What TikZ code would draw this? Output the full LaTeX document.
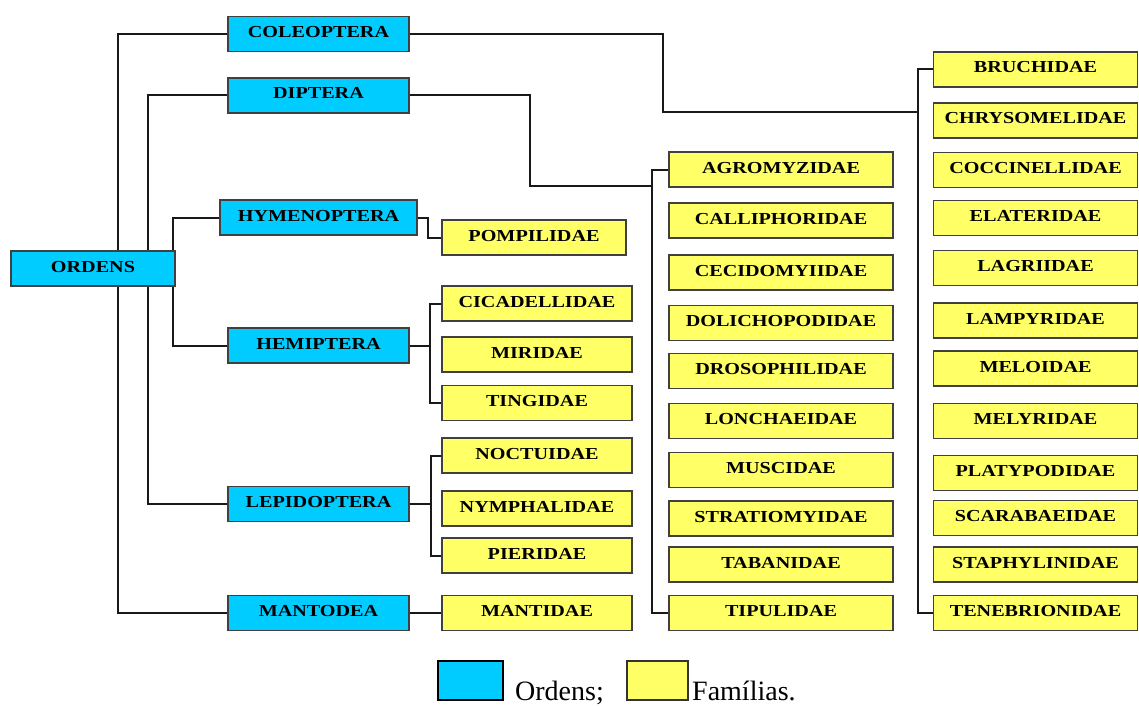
\documentclass[tikz,border=0pt]{standalone}
\usepackage{fontspec}
\usetikzlibrary{backgrounds}
\newfontfamily\caixafont[FakeStretch=1.2]{Liberation Serif}
\newfontfamily\legfont{Liberation Serif}
\definecolor{azulord}{RGB}{0,204,255}
\definecolor{amarfam}{RGB}{255,255,102}
\begin{document}
\begin{tikzpicture}[x=1pt,y=-1pt,
  caixa/.style={draw=black!75,line width=1.3pt,inner sep=0pt,minimum height=35pt,
    text height=11pt,text depth=4pt,font=\caixafont\bfseries\fontsize{16.8}{18}\selectfont},
  ordem/.style={caixa,fill=azulord,minimum width=181pt},
  famA/.style={caixa,fill=amarfam,minimum width=190pt},
  famB/.style={caixa,fill=amarfam,minimum width=224pt},
  famC/.style={caixa,fill=amarfam,minimum width=204pt},
  lig/.style={line width=2pt,black!90},
  legtxt/.style={anchor=base west,inner sep=0pt,font=\legfont\fontsize{28}{30}\selectfont}]
  \useasboundingbox (0,0) rectangle (1139,706);
  \node[ordem,minimum width=164pt] (ordens) at (93,268.5) {ORDENS};
  \node[ordem] (coleoptera) at (318.5,34) {COLEOPTERA};
  \node[ordem] (diptera) at (318.5,95.5) {DIPTERA};
  \node[ordem,minimum width=197pt] (hymenoptera) at (318.5,217.5) {HYMENOPTERA};
  \node[ordem] (hemiptera) at (318.5,345.5) {HEMIPTERA};
  \node[ordem] (lepidoptera) at (318.5,504) {LEPIDOPTERA};
  \node[ordem] (mantodea) at (318.5,613) {MANTODEA};
  \node[famA,minimum width=184pt] (pompilidae) at (534,237.5) {POMPILIDAE};
  \node[famA] (cicadellidae) at (537,303.5) {CICADELLIDAE};
  \node[famA] (miridae) at (537,354.5) {MIRIDAE};
  \node[famA] (tingidae) at (537,403) {TINGIDAE};
  \node[famA] (noctuidae) at (537,455.5) {NOCTUIDAE};
  \node[famA] (nymphalidae) at (537,508.5) {NYMPHALIDAE};
  \node[famA] (pieridae) at (537,555.5) {PIERIDAE};
  \node[famA] (mantidae) at (537,613) {MANTIDAE};
  \node[famB] (agromyzidae) at (781,169.5) {AGROMYZIDAE};
  \node[famB] (calliphoridae) at (781,220.5) {CALLIPHORIDAE};
  \node[famB] (cecidomyiidae) at (781,272.5) {CECIDOMYIIDAE};
  \node[famB] (dolichopodidae) at (781,323) {DOLICHOPODIDAE};
  \node[famB] (drosophilidae) at (781,371) {DROSOPHILIDAE};
  \node[famB] (lonchaeidae) at (781,421) {LONCHAEIDAE};
  \node[famB] (muscidae) at (781,470) {MUSCIDAE};
  \node[famB] (stratiomyidae) at (781,518.5) {STRATIOMYIDAE};
  \node[famB] (tabanidae) at (781,564.5) {TABANIDAE};
  \node[famB] (tipulidae) at (781,613) {TIPULIDAE};
  \node[famC] (bruchidae) at (1035.5,69.5) {BRUCHIDAE};
  \node[famC] (chrysomelidae) at (1035.5,120.5) {CHRYSOMELIDAE};
  \node[famC] (coccinellidae) at (1035.5,170) {COCCINELLIDAE};
  \node[famC] (elateridae) at (1035.5,218) {ELATERIDAE};
  \node[famC] (lagriidae) at (1035.5,268) {LAGRIIDAE};
  \node[famC] (lampyridae) at (1035.5,320.5) {LAMPYRIDAE};
  \node[famC] (meloidae) at (1035.5,368.5) {MELOIDAE};
  \node[famC] (melyridae) at (1035.5,421) {MELYRIDAE};
  \node[famC] (platypodidae) at (1035.5,473) {PLATYPODIDAE};
  \node[famC] (scarabaeidae) at (1035.5,518) {SCARABAEIDAE};
  \node[famC] (staphylinidae) at (1035.5,564.5) {STAPHYLINIDAE};
  \node[famC] (tenebrionidae) at (1035.5,613) {TENEBRIONIDAE};
  \coordinate (troncoA) at (118,268.5);
  \coordinate (troncoB) at (148,268.5);
  \coordinate (troncoC) at (173,268.5);
  \coordinate (coleoA) at (663,112);
  \coordinate (coleoB) at (918,112);
  \coordinate (dipA) at (530,186);
  \coordinate (dipB) at (652,186);
  \coordinate (himA) at (428,228);
  \coordinate (hemA) at (430,345.5);
  \coordinate (lepA) at (431,504);
  \begin{scope}[on background layer]
    \draw[lig] (coleoptera.west) -| (troncoA) |- (mantodea.west);
    \draw[lig] (diptera.west) -| (troncoB) |- (lepidoptera.west);
    \draw[lig] (hymenoptera.west) -| (troncoC) |- (hemiptera.west);
  \end{scope}
  \draw[lig] (coleoptera.east) -| (coleoA) -- (coleoB);
  \draw[lig] (bruchidae.west) -| (coleoB) |- (tenebrionidae.west);
  \draw[lig] (diptera.east) -| (dipA) -- (dipB);
  \draw[lig] (agromyzidae.west) -| (dipB) |- (tipulidae.west);
  \draw[lig] (hymenoptera.east) -| (himA) |- (pompilidae.west);
  \draw[lig] (hemiptera.east) -- (hemA);
  \draw[lig] (cicadellidae.west) -| (hemA) |- (tingidae.west);
  \draw[lig] (lepidoptera.east) -- (lepA);
  \draw[lig] (noctuidae.west) -| (lepA) |- (pieridae.west);
  \draw[lig] (mantodea.east) -- (mantidae.west);
  \node[draw=black,line width=1.3pt,fill=azulord,minimum width=65pt,minimum height=39pt,inner sep=0pt] (legord) at (470.5,680.5) {};
  \node[legtxt] (txtord) at (515,700) {Ordens;};
  \node[draw=black!80,line width=1.3pt,fill=amarfam,minimum width=61pt,minimum height=39pt,inner sep=0pt] (legfam) at (657.5,680.5) {};
  \node[legtxt] (txtfam) at (692,700) {Famílias.};
\end{tikzpicture}
\end{document}
